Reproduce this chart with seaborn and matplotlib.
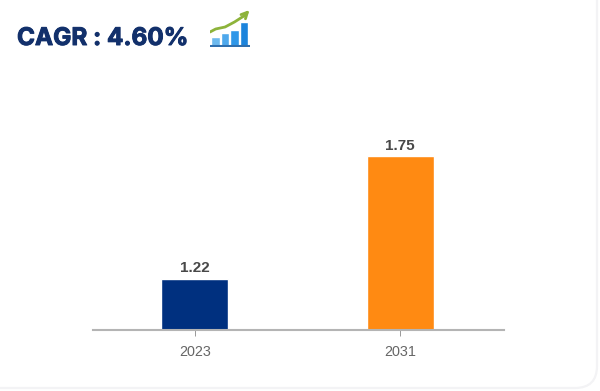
import matplotlib
matplotlib.use('Agg')
import matplotlib.pyplot as plt
from matplotlib.patches import FancyBboxPatch
import matplotlib.patheffects as pe
import pandas as pd
import seaborn as sns

years = ['2023', '2031']
values = [1.22, 1.75]
value_labels = ['1.22', '1.75']
bar_colors = ['#00307f', '#ff8a12']
title = 'CAGR : 4.60%'

icon_bars = [10, 14, 17, 25]
icon_colors = ['#6cb9ee', '#4ea8ec', '#2f97e8', '#1c84dc']
icon_arrow_x = [-0.6, 0, 1, 2, 3, 3.6]
icon_arrow_y = [15, 18, 20, 25, 31, 37]

W, H = 600, 391

sns.set_theme(style='white')
plt.rcParams['font.family'] = ['Liberation Sans', 'DejaVu Sans']

fig = plt.figure(figsize=(W / 100, H / 100), dpi=100, facecolor='#ffffff')

# card behind the chart
card = fig.add_axes([0, 0, 1, 1], zorder=0)
card.set_xlim(0, W)
card.set_ylim(H, 0)
card.axis('off')
card.add_patch(FancyBboxPatch((-30, -30), 627, 418, boxstyle='round,pad=0,rounding_size=22',
                              fc='#ffffff', ec='#f3f3f5', lw=1.6))

# main bars
df = pd.DataFrame({'year': years, 'value': values})
ax = fig.add_axes([93 / W, 1 - 330 / H, 411 / W, 232 / H], zorder=1)
ax.patch.set_alpha(0)
sns.barplot(data=df, x='year', y='value', hue='year', palette=bar_colors, legend=False,
            width=0.325, saturation=1, ax=ax)
ax.set_xlim(-0.495, 1.505)
ax.set_ylim(1.0, 2.0)
ax.set_xlabel('')
ax.set_ylabel('')
ax.set_yticks([])
for s in ['top', 'left', 'right']:
    ax.spines[s].set_visible(False)
ax.spines['bottom'].set_color('#b4b4b4')
ax.spines['bottom'].set_linewidth(1.5)
ax.tick_params(axis='x', length=4, width=0.7, color='#999999', labelcolor='#666666',
               labelsize=10.4, pad=7, bottom=True)
for i, v in enumerate(values):
    ax.annotate(value_labels[i], (i, v), xytext=(0, 2.5), textcoords='offset points', ha='center',
                va='bottom', fontsize=11, color='#484848', fontweight='bold')

# heading
fig.text(17 / W, 1 - 38.5 / H, title, fontsize=17.5, fontweight='bold', color='#12306b',
         family=['Inter', 'DejaVu Sans'], va='center', ha='left',
         path_effects=[pe.withStroke(linewidth=0.7, foreground='#12306b')])

# small trend icon
icon = fig.add_axes([210 / W, 1 - 47 / H, 40 / W, 37 / H], zorder=2)
icon.patch.set_alpha(0)
sns.barplot(x=list(range(4)), y=icon_bars, hue=list(range(4)), palette=icon_colors, legend=False,
            width=0.92, saturation=1, ax=icon)
icon.plot(icon_arrow_x[:-1], icon_arrow_y[:-1], color='#8db33a', lw=2, solid_capstyle='round')
icon.annotate('', xy=(icon_arrow_x[-1], icon_arrow_y[-1]), xytext=(icon_arrow_x[-2], icon_arrow_y[-2]),
              annotation_clip=False,
              arrowprops=dict(arrowstyle='->', color='#8db33a', lw=2, mutation_scale=11,
                              shrinkA=0, shrinkB=0))
icon.set_xlim(-0.6, 3.65)
icon.set_ylim(0, 37)
icon.axis('off')
icon.axhline(0.6, color='#2f6fae', lw=2.2)

fig.savefig('out.png', dpi=100)
